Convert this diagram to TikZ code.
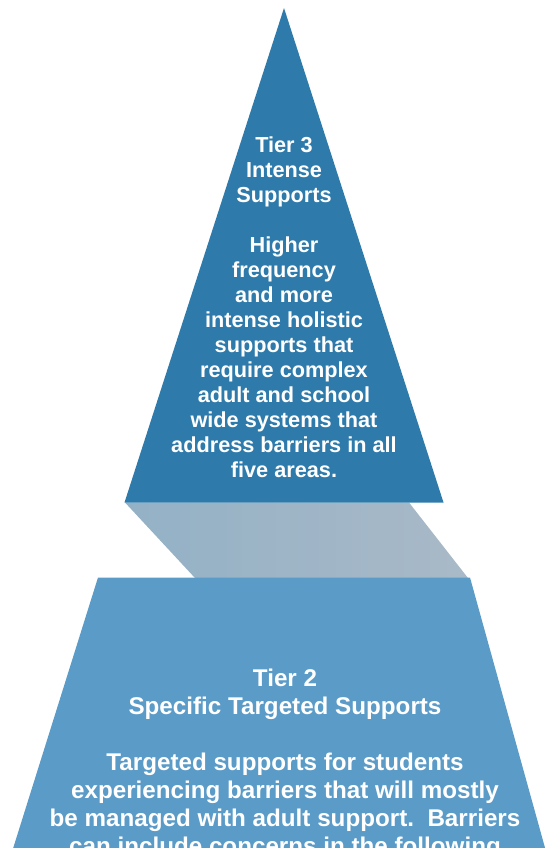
\documentclass[tikz,border=0pt]{standalone}
\usepackage{fontspec}
\setmainfont{Liberation Sans}
\definecolor{tierthree}{HTML}{2E7BAB}
\definecolor{tiertwo}{HTML}{5A9BC8}
\definecolor{shadowL}{HTML}{93B1C6}
\definecolor{shadowR}{HTML}{A9B9C7}
\frenchspacing
\begin{document}
\begin{tikzpicture}[x=1pt,y=-1pt,
  tiertext/.style={text=white, inner sep=0pt, anchor=base, font=\bfseries}]
\useasboundingbox (0,0) rectangle (546,848);
\clip (0,0) rectangle (546,848);
% shadow connecting band
\shade[left color=shadowL, right color=shadowR]
  (125,502.5) -- (409,502.5) -- (468,578) -- (195,578) -- cycle;
% tier 2 trapezoid
\fill[tiertwo] (98,577.5) -- (470,577.5) -- (547,855) -- (11,855) -- cycle;
% tier 3 triangle
\fill[tierthree] (284,8) -- (443.5,502.5) -- (124.5,502.5) -- cycle;
% texts
\node[tiertext] (t3) at (284,152.5) {\fontsize{21.7}{25}\selectfont\bfseries
  \setlength{\tabcolsep}{0pt}\renewcommand{\arraystretch}{1}%
  \begin{tabular}[t]{c}
  Tier 3\\
  Intense\\
  Supports\\
  \\
  Higher\\
  frequency\\
  and more\\
  intense holistic\\
  supports that\\
  require complex\\
  adult and school\\
  wide systems that\\
  address barriers in all\\
  five areas.
  \end{tabular}};
\node[tiertext] (t2) at (285,686) {\fontsize{24.2}{28}\selectfont\bfseries
  \setlength{\tabcolsep}{0pt}\renewcommand{\arraystretch}{1}%
  \begin{tabular}[t]{c}
  Tier 2\\
  Specific Targeted Supports\\
  \\
  Targeted supports for students\\
  experiencing barriers that will mostly\\
  be managed with adult support.~~Barriers\\
  can include concerns in the following
  \end{tabular}};
\end{tikzpicture}
\end{document}
